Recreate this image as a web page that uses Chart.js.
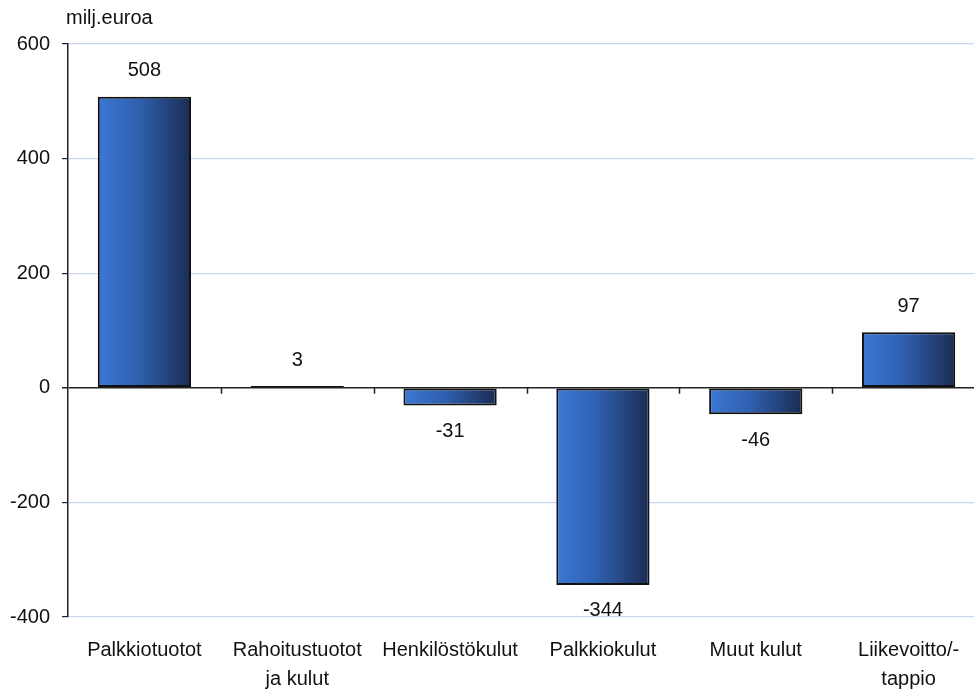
<!DOCTYPE html>
<html>
<head>
<meta charset="utf-8">
<script src="https://cdn.jsdelivr.net/npm/chart.js@4"></script>
<style>
  html, body { margin: 0; padding: 0; background: #fff; overflow: hidden; }
  #wrap { position: relative; width: 986px; height: 691px; }
</style>
</head>
<body>
<div id="wrap"><canvas id="chart"></canvas></div>
<script>
// data
const categories = [
  'Palkkiotuotot',
  ['Rahoitustuotot', 'ja kulut'],
  'Henkilöstökulut',
  'Palkkiokulut',
  'Muut kulut',
  ['Liikevoitto/-', 'tappio']
];
const values = [508, 3, -31, -344, -46, 97];
const yMin = -400;
const yMax = 600;
const yStep = 200;
const unitLabel = 'milj.euroa';

const FONT = { family: 'Liberation Sans, Arial, sans-serif', size: 20, lineHeight: 1.45 };

// horizontal blue gradient on each bar
function barGradient(context) {
  const chart = context.chart;
  const x = chart.scales.x;
  if (!chart.chartArea || !x || context.dataIndex === undefined) return '#2e5ba8';
  const cat = (x.right - x.left) / categories.length;
  const w = cat * 0.61;
  const cx = x.getPixelForValue(context.dataIndex);
  const g = chart.ctx.createLinearGradient(cx - w / 2, 0, cx + w / 2, 0);
  g.addColorStop(0, '#3b78d4');
  g.addColorStop(0.45, '#2f5fae');
  g.addColorStop(1, '#1a2c52');
  return g;
}

// zero line tick marks, value labels and unit label
const extras = {
  id: 'extras',
  afterDatasetsDraw(chart) {
    const ctx = chart.ctx;
    const x = chart.scales.x, y = chart.scales.y;
    const y0 = y.getPixelForValue(0);
    const cat = (x.right - x.left) / categories.length;
    ctx.save();
    ctx.strokeStyle = '#222';
    ctx.lineWidth = 1.5;
    ctx.beginPath();
    for (let i = 1; i < categories.length; i++) {
      const px = Math.round(x.left + i * cat) + 0.5;
      ctx.moveTo(px, y0);
      ctx.lineTo(px, y0 + 6);
    }
    ctx.stroke();

    ctx.fillStyle = '#111';
    ctx.font = FONT.size + 'px ' + FONT.family;
    ctx.textAlign = 'center';
    ctx.textBaseline = 'middle';
    chart.getDatasetMeta(0).data.forEach((bar, i) => {
      const v = values[i];
      const ty = v >= 0 ? bar.y - 26 : bar.y + 26;
      ctx.fillText(String(v), bar.x, ty);
    });

    ctx.textAlign = 'left';
    ctx.fillText(unitLabel, 66, 18);
    ctx.restore();
  }
};

new Chart(document.getElementById('chart'), {
  type: 'bar',
  data: {
    labels: categories,
    datasets: [{
      data: values,
      backgroundColor: barGradient,
      borderColor: '#111',
      borderWidth: 2,
      borderSkipped: false,
      categoryPercentage: 1,
      barPercentage: 0.61
    }]
  },
  options: {
    responsive: true,
    maintainAspectRatio: false,
    animation: false,
    layout: { padding: { top: 44, right: 1, left: 0, bottom: 0 } },
    plugins: { legend: { display: false }, tooltip: { enabled: false } },
    scales: {
      x: {
        grid: { display: false, drawTicks: false },
        border: { display: false },
        ticks: { color: '#111', font: FONT, padding: 19, maxRotation: 0, autoSkip: false },
        afterFit(scale) { scale.height = 74; }
      },
      y: {
        min: yMin,
        max: yMax,
        grid: {
          color: c => (c.tick && c.tick.value === 0 ? '#222' : '#c8d6f0'),
          lineWidth: c => (c.tick && c.tick.value === 0 ? 1.5 : 1.2),
          tickColor: '#222',
          tickLength: 6
        },
        border: { display: true, color: '#222', width: 1.5 },
        ticks: { stepSize: yStep, color: '#111', font: FONT, padding: 12 },
        afterFit(scale) { scale.width = 68; }
      }
    }
  },
  plugins: [extras]
});
</script>
</body>
</html>
